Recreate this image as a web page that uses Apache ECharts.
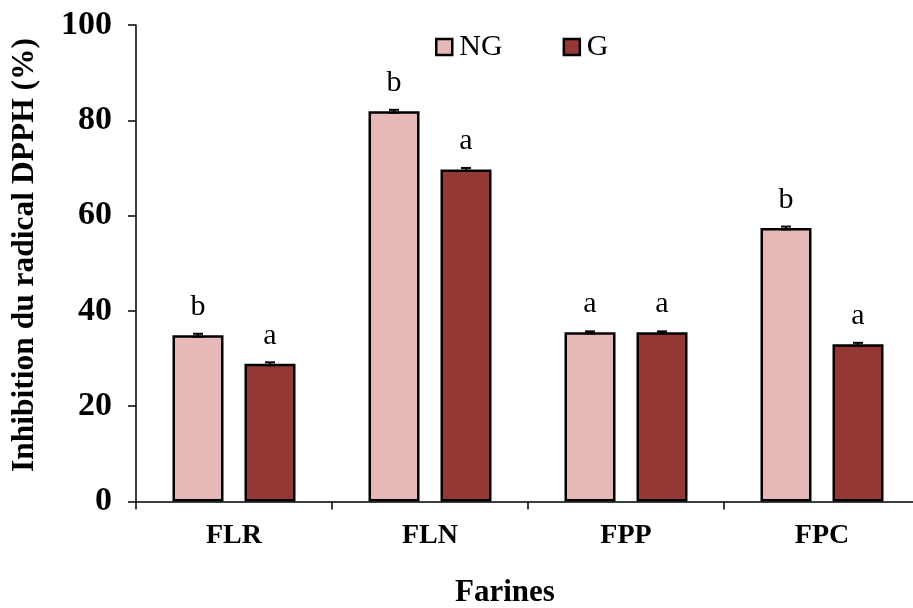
<!DOCTYPE html>
<html>
<head>
<meta charset="utf-8">
<script src="https://cdn.jsdelivr.net/npm/echarts@6/dist/echarts.min.js"></script>
<style>html,body{margin:0;padding:0;background:#fff}#c{width:913px;height:608px}</style>
</head>
<body>
<div id="c"></div>
<script>
const categories = ['FLR', 'FLN', 'FPP', 'FPC'];
const seriesNames = ['NG', 'G'];
const ngValues = [34.9, 81.9, 35.5, 57.4];
const gValues = [28.9, 69.7, 35.5, 33.0];
const ngErrors = [0.3, 0.3, 0.2, 0.3];
const gErrors = [0.3, 0.3, 0.2, 0.3];
const ngLetters = ['b', 'b', 'a', 'b'];
const gLetters = ['a', 'a', 'a', 'a'];
const yMin = 0, yMax = 100, yStep = 20;
const yAxisTitle = 'Inhibition du radical DPPH (%)';
const xAxisTitle = 'Farines';

const FONT = "'Liberation Serif','Times New Roman',serif";
const chart = echarts.init(document.getElementById('c'), null, {renderer: 'canvas'});

const BAR_W = 51, BAR_GAP = 21;
const offset = (BAR_W + BAR_GAP) / 2;

function errSeries(values, errors, dir) {
  return {
    type: 'custom',
    silent: true,
    z: 5,
    data: values.map((v, i) => [i, v, errors[i]]),
    renderItem: function (params, api) {
      const i = api.value(0), v = api.value(1), e = api.value(2);
      const hi = api.coord([i, v + e]);
      const lo = api.coord([i, v - e]);
      const x = hi[0] + dir * offset;
      const cap = 5;
      const st = {stroke: '#000', lineWidth: 2};
      return {
        type: 'group',
        children: [
          {type: 'line', shape: {x1: x, y1: hi[1], x2: x, y2: lo[1]}, style: st},
          {type: 'line', shape: {x1: x - cap, y1: hi[1], x2: x + cap, y2: hi[1]}, style: st},
          {type: 'line', shape: {x1: x - cap, y1: lo[1], x2: x + cap, y2: lo[1]}, style: st}
        ]
      };
    }
  };
}

function barSeries(name, values, letters, color) {
  return {
    name: name,
    type: 'bar',
    barWidth: BAR_W,
    barGap: (BAR_GAP / BAR_W * 100) + '%',
    data: values.map((v, i) => ({
      value: v,
      label: {formatter: letters[i]}
    })),
    itemStyle: {color: color, borderColor: '#000', borderWidth: 2.5},
    label: {
      show: true,
      position: 'top',
      distance: 13,
      color: '#000',
      fontFamily: FONT,
      fontSize: 30
    }
  };
}

chart.setOption({
  animation: false,
  backgroundColor: '#fff',
  grid: {left: 136, top: 25, width: 784, height: 476.5, containLabel: false, outerBoundsMode: 'none'},
  legend: {
    data: seriesNames,
    left: 430,
    top: 27,
    itemWidth: 16,
    itemHeight: 16,
    itemGap: 60,
    icon: 'rect',
    itemStyle: {borderColor: '#000', borderWidth: 2.5},
    textStyle: {fontFamily: FONT, fontSize: 30, color: '#000', padding: [0, 0, 0, 2]}
  },
  xAxis: {
    type: 'category',
    data: categories,
    axisLine: {lineStyle: {color: '#000', width: 1.5}},
    axisTick: {show: true, length: 8, lineStyle: {color: '#000', width: 1.5}},
    axisLabel: {fontFamily: FONT, fontSize: 28, fontWeight: 'bold', color: '#000', margin: 20}
  },
  yAxis: {
    type: 'value',
    min: yMin,
    max: yMax,
    interval: yStep,
    splitLine: {show: false},
    axisLine: {show: true, lineStyle: {color: '#000', width: 1.5}},
    axisTick: {show: true, length: 8, lineStyle: {color: '#000', width: 1.5}},
    axisLabel: {fontFamily: FONT, fontSize: 34, fontWeight: 'bold', color: '#000', margin: 24}
  },
  graphic: [{
    type: 'text',
    x: 25,
    y: 255,
    rotation: Math.PI / 2,
    style: {
      text: yAxisTitle,
      fontFamily: FONT,
      fontSize: 31.5,
      fontWeight: 'bold',
      fill: '#000',
      align: 'center',
      verticalAlign: 'middle'
    }
  }, {
    type: 'text',
    x: 505,
    y: 593,
    style: {
      text: xAxisTitle,
      fontFamily: FONT,
      fontSize: 31,
      fontWeight: 'bold',
      fill: '#000',
      align: 'center',
      verticalAlign: 'middle'
    }
  }],
  series: [
    barSeries('NG', ngValues, ngLetters, '#E6B8B7'),
    barSeries('G', gValues, gLetters, '#953735'),
    errSeries(ngValues, ngErrors, -1),
    errSeries(gValues, gErrors, 1)
  ]
});
</script>
</body>
</html>
